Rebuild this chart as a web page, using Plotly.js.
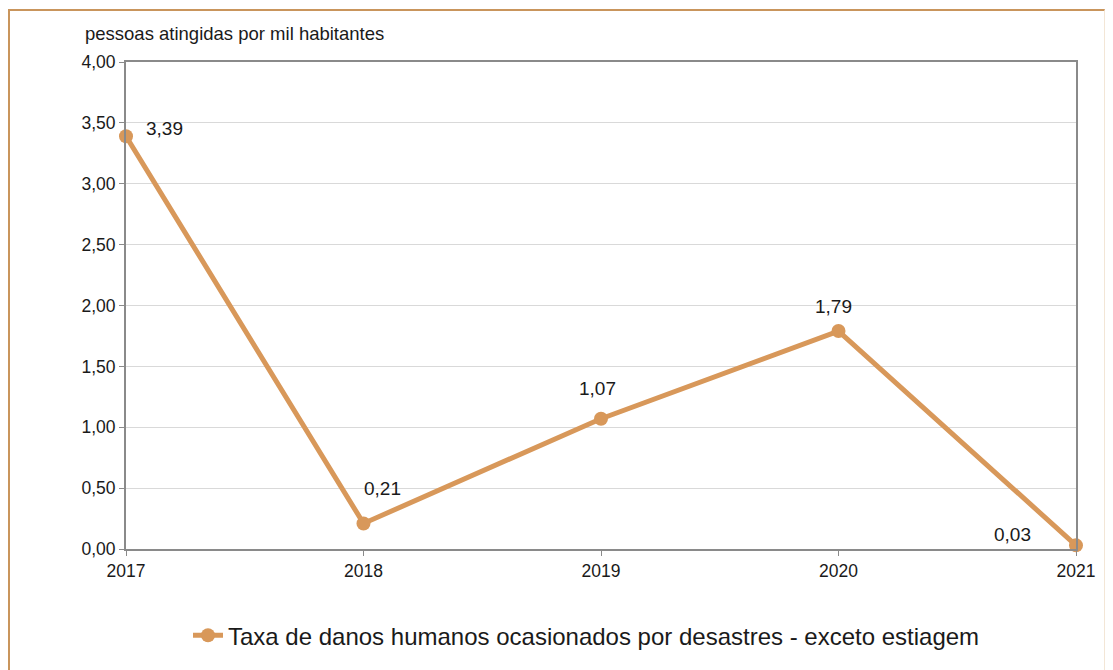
<!DOCTYPE html>
<html>
<head>
<meta charset="utf-8">
<script src="https://cdn.plot.ly/plotly-3.0.1.min.js"></script>
<style>
html,body{margin:0;padding:0;background:#fff;}
#frame{position:absolute;left:8px;top:9px;width:1097px;height:670px;border-left:2px solid #c9955c;border-top:2px solid #c9955c;border-right:1px solid #f3e6d6;box-sizing:border-box;}
#chart{position:absolute;left:0;top:0;width:1113px;height:670px;}
</style>
</head>
<body>
<div id="frame"></div>
<div id="chart"></div>
<script>
const years = [2017, 2018, 2019, 2020, 2021];
const values = [3.39, 0.21, 1.07, 1.79, 0.03];
const seriesName = 'Taxa de danos humanos ocasionados por desastres - exceto estiagem';
const yTitle = 'pessoas atingidas por mil habitantes';
const yTicks = [0, 0.5, 1, 1.5, 2, 2.5, 3, 3.5, 4];

const color = '#d8985a';
const FONT = 'Arial, Liberation Sans, sans-serif';
const fmt = v => v.toFixed(2).replace('.', ',');
const offsets = [[38, 8], [19, 35], [-4, 30], [-5, 25], [-64, 11]];

const L = 126, R = 37, T = 62, B = 119, W = 1113, H = 670;
const pw = W - L - R, ph = H - T - B;

const annotations = values.map((v, i) => ({
  x: years[i], y: v, xref: 'x', yref: 'y', text: fmt(v), showarrow: false,
  xshift: offsets[i][0], yshift: offsets[i][1],
  font: {family: FONT, size: 19, color: '#1a1a1a'}
}));
annotations.push({
  x: (83 - L) / pw, y: (H - B - 33) / ph, xref: 'paper', yref: 'paper',
  text: yTitle, showarrow: false, xanchor: 'left', yanchor: 'middle',
  font: {family: FONT, size: 18.5, color: '#1a1a1a'}
});

const trace = {
  x: years, y: values, type: 'scatter', mode: 'lines+markers', name: seriesName,
  line: {color: color, width: 5},
  marker: {color: color, size: 14},
  cliponaxis: false
};

const layout = {
  width: W, height: H,
  margin: {l: L, r: R, t: T, b: B},
  paper_bgcolor: 'rgba(0,0,0,0)', plot_bgcolor: '#fff',
  separators: ',.',
  font: {family: FONT, color: '#1a1a1a'},
  showlegend: true,
  legend: {orientation: 'h', x: (188 - L) / pw, xanchor: 'left', y: -(638 - (H - B)) / ph, yanchor: 'middle',
    font: {size: 24, color: '#1a1a1a'}},
  xaxis: {
    range: [2017, 2021], tickvals: years, ticktext: years.map(String),
    showgrid: false, zeroline: false,
    showline: true, linecolor: '#8a8a8a', linewidth: 2, mirror: true,
    ticks: 'outside', ticklen: 5, tickcolor: '#8a8a8a',
    tickfont: {size: 17.5, color: '#1a1a1a'}
  },
  yaxis: {
    range: [0, 4], tickvals: yTicks, tickformat: '.2f',
    showgrid: true, gridcolor: '#d9d9d9', gridwidth: 1, zeroline: false,
    showline: true, linecolor: '#8a8a8a', linewidth: 2, mirror: true,
    ticks: 'outside', ticklen: 5, tickcolor: '#8a8a8a',
    tickfont: {size: 17.5, color: '#1a1a1a'}
  },
  annotations: annotations
};

Plotly.newPlot('chart', [trace], layout, {displayModeBar: false, staticPlot: true});
</script>
</body>
</html>
